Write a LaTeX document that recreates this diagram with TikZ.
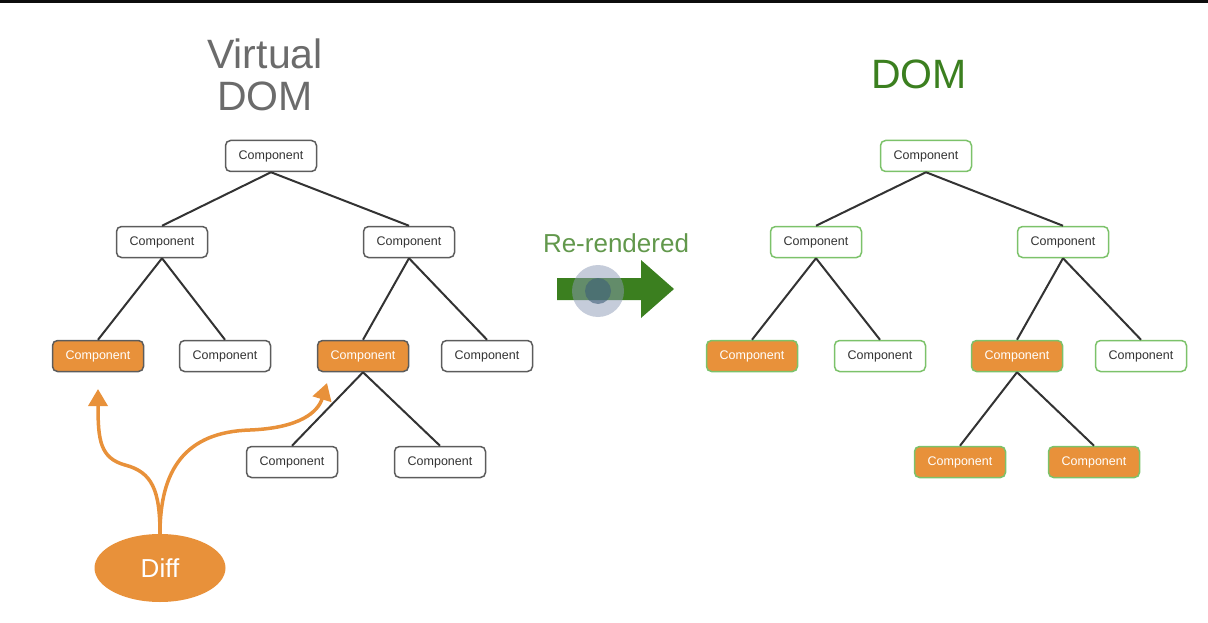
\documentclass[tikz,border=0pt]{standalone}
\usepackage{fontspec}
\setmainfont{Liberation Sans}
\usetikzlibrary{arrows.meta,shapes.geometric}
\definecolor{orng}{HTML}{E8913A}
\definecolor{dgreen}{HTML}{3B7F1F}
\definecolor{lgreen}{HTML}{7CC26A}
\definecolor{tgray}{HTML}{6B6B6B}
\definecolor{egray}{HTML}{333333}
\definecolor{halo}{HTML}{8C9AB5}
\definecolor{halocore}{HTML}{3E5F78}
\tikzset{
  comp/.style={draw=egray!80, line width=1.5pt, rounded corners=5pt, fill=white,
    minimum width=91pt, minimum height=31pt, inner sep=0pt,
    font=\fontsize{12.5}{14}\selectfont, text=egray},
  hot/.style={fill=orng, text=white},
  gcomp/.style={comp, draw=lgreen},
  edge/.style={draw=egray, line width=2pt},
  diffarrow/.style={draw=orng, line width=3.5pt, -{Triangle[width=19pt,length=17pt]}},
}
\begin{document}
\begin{tikzpicture}[x=1pt,y=-1pt]
\useasboundingbox (0,0) rectangle (1208,623);
\fill[black!95] (0,0) rectangle (1208,3);
% titles
\node[text=tgray, font=\fontsize{41}{42}\selectfont, align=center] (tvd) at (265,75) {Virtual\\DOM};
\node[text=dgreen, font=\fontsize{41}{42}\selectfont] (tdom) at (919,74) {DOM};
% left tree
\node[comp] (a) at (271,156) {Component};
\node[comp] (a1) at (162,242) {Component};
\node[comp] (a2) at (409,242) {Component};
\node[comp,hot] (a11) at (98,356) {Component};
\node[comp] (a12) at (225,356) {Component};
\node[comp,hot] (a21) at (363,356) {Component};
\node[comp] (a22) at (487,356) {Component};
\node[comp] (a211) at (292,462) {Component};
\node[comp] (a212) at (440,462) {Component};
\foreach \p/\c in {a/a1,a/a2,a1/a11,a1/a12,a2/a21,a2/a22,a21/a211,a21/a212}
  \draw[edge] (\p.south) -- (\c.north);
% right tree
\node[gcomp] (b) at (926,156) {Component};
\node[gcomp] (b1) at (816,242) {Component};
\node[gcomp] (b2) at (1063,242) {Component};
\node[gcomp,hot] (b11) at (752,356) {Component};
\node[gcomp] (b12) at (880,356) {Component};
\node[gcomp,hot] (b21) at (1017,356) {Component};
\node[gcomp] (b22) at (1141,356) {Component};
\node[gcomp,hot] (b211) at (960,462) {Component};
\node[gcomp,hot] (b212) at (1094,462) {Component};
\foreach \p/\c in {b/b1,b/b2,b1/b11,b1/b12,b2/b21,b2/b22,b21/b211,b21/b212}
  \draw[edge] (\p.south) -- (\c.north);
% re-rendered arrow
\node[text=dgreen!80!white, font=\fontsize{26}{28}\selectfont] (rr) at (616,243) {Re-rendered};
\fill[dgreen] (557,278) -- (641,278) -- (641,260) -- (674,289) -- (641,318) -- (641,300) -- (557,300) -- cycle;
\fill[halo, opacity=0.5] (598,291) circle (26);
\fill[halocore, opacity=0.6] (598,291) circle (13);
% diff
\node[ellipse, fill=orng, minimum width=131pt, minimum height=68pt, text=white,
  font=\fontsize{26}{28}\selectfont] (diff) at (160,568) {Diff};
\coordinate (t1) at (98,389);
\coordinate (t2) at (327,383);
\draw[diffarrow] (diff.north) .. controls (160,490) and (152,472) .. (125,465)
  .. controls (100,458) and (98,440) .. (t1);
\draw[diffarrow] (diff.north) .. controls (160,470) and (185,432) .. (250,430)
  .. controls (300,428) and (318,412) .. (t2);
\end{tikzpicture}
\end{document}
